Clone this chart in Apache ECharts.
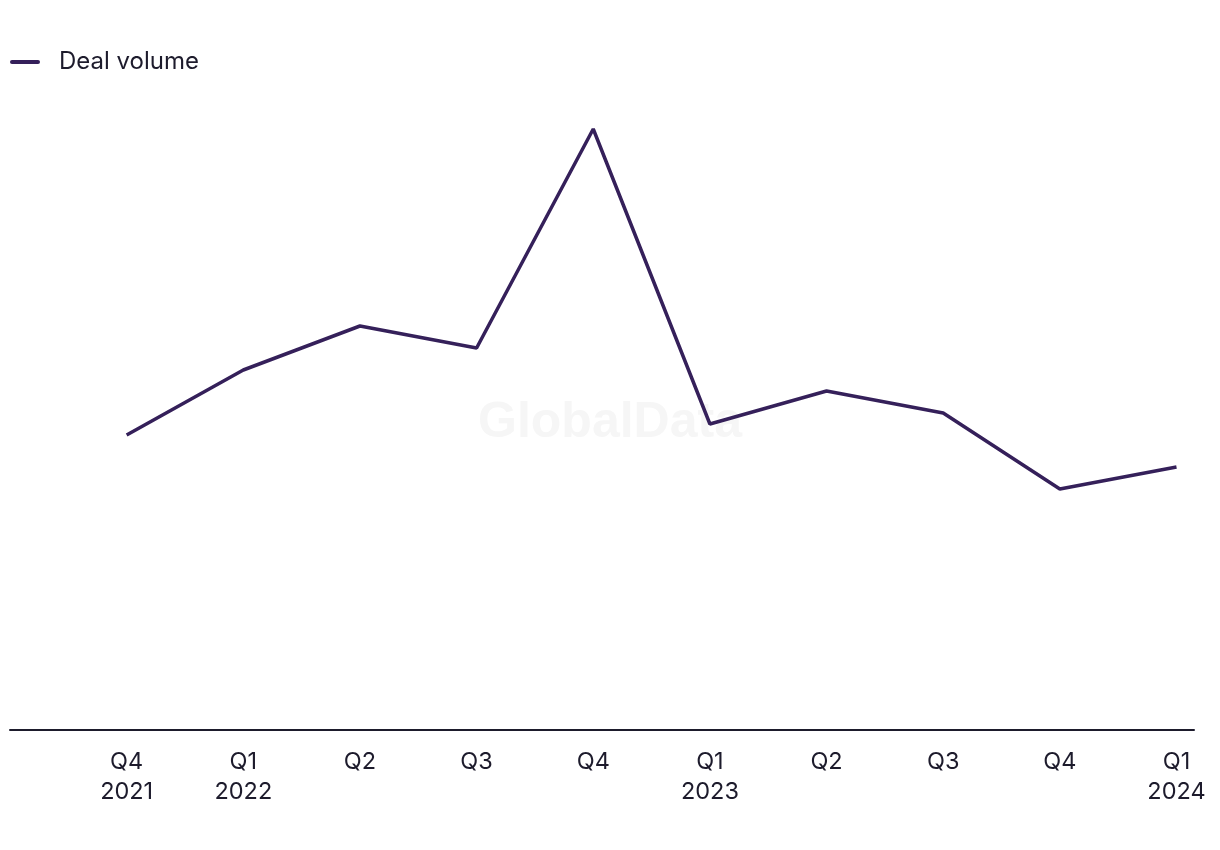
<!DOCTYPE html>
<html>
<head>
<meta charset="utf-8">
<script src="https://cdn.jsdelivr.net/npm/echarts@6/dist/echarts.min.js"></script>
<style>html,body{margin:0;padding:0;background:#fff}#c{width:1220px;height:850px}</style>
</head>
<body>
<div id="c"></div>
<script>
const categories = ['Q4\n2021','Q1\n2022','Q2','Q3','Q4','Q1\n2023','Q2','Q3','Q4','Q1\n2024'];
const dealVolume = [29.5, 36.0, 40.4, 38.2, 60.1, 30.6, 33.9, 31.7, 24.1, 26.3];
const seriesName = 'Deal volume';

const chart = echarts.init(document.getElementById('c'));
const font = 'Inter, Liberation Sans, Arial, sans-serif';
chart.setOption({
  animation: false,
  graphic: [{
    type: 'text', left: 'center', top: 398, z: 0, silent: true,
    style: { text: 'GlobalData', font: 'bold 50px Liberation Sans, Arial, sans-serif', fill: '#f6f6f6' }
  }],
  legend: {
    left: 10, top: 50, padding: 0, itemWidth: 30, itemHeight: 14,
    data: [{ name: seriesName, icon: 'path://M2,0 L28,0 A2,2 0 0 1 28,4 L2,4 A2,2 0 0 1 2,0 Z' }],
    textStyle: { fontFamily: font, fontSize: 24, color: '#1d1b2c', padding: [0, 0, 0, 14] }
  },
  grid: { left: 10, right: 26, top: 30, bottom: 120, containLabel: false },
  xAxis: {
    type: 'value', min: -1, max: 9.15, interval: 1,
    splitLine: { show: false },
    axisTick: { show: false },
    axisLine: { show: true, onZero: false, lineStyle: { color: '#1d1b2c', width: 2 } },
    axisLabel: {
      margin: 17, fontFamily: font, fontSize: 23.5, color: '#1d1b2c', lineHeight: 30,
      showMaxLabel: false,
      formatter: v => (v >= 0 && Number.isInteger(v) && v < categories.length) ? categories[v] : ''
    }
  },
  yAxis: {
    type: 'value', min: 0, max: 70,
    show: false, splitLine: { show: false }
  },
  series: [{
    name: seriesName, type: 'line', z: 3,
    data: dealVolume.map((v, i) => [i, v]),
    showSymbol: false, symbol: 'none',
    lineStyle: { color: '#35205a', width: 3.5 },
    itemStyle: { color: '#35205a' }
  }]
});
</script>
</body>
</html>
